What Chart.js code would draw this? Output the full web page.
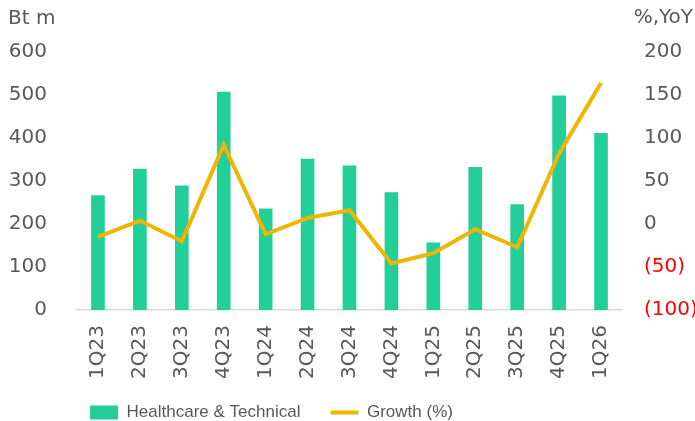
<!DOCTYPE html>
<html>
<head>
<meta charset="utf-8">
<script src="https://cdn.jsdelivr.net/npm/chart.js@4.4.1/dist/chart.umd.min.js"></script>
<style>
  html, body { margin: 0; padding: 0; background: #fff; }
  #wrap { width: 695px; height: 421px; position: relative; }
</style>
</head>
<body>
<div id="wrap"><canvas id="chart"></canvas></div>
<script>
"use strict";
// data
const quarters = ["1Q23", "2Q23", "3Q23", "4Q23", "1Q24", "2Q24", "3Q24", "4Q24", "1Q25", "2Q25", "3Q25", "4Q25", "1Q26"];
const revenue = [266, 328, 289, 507, 235, 351, 335, 273, 156, 332, 245, 498, 411];
const growth = [-15, 4, -20, 92, -12, 7, 16, -46, -34, -6, -27, 82, 164];
const leftTicks = [0, 100, 200, 300, 400, 500, 600];
const rightTicks = [-100, -50, 0, 50, 100, 150, 200];

const GREEN = "#22cf98";
const YELLOW = "#efb500";
const GREY = "#595959";
const TICK_FONT = { family: "DejaVu Sans", size: 20 };

function fmtPct(v) {
    return v < 0 ? `(${Math.abs(v)})` : String(v);
}

// "Bt m" / "%,YoY" unit captions, legend nudged left like the original,
// and the x scale box stretched so the rotated labels aren't clipped
const extras = {
    id: "extras",
    afterLayout(chart) {
        const lg = chart.legend;
        if (lg) {
            lg.left -= 76;
            lg.right -= 76;
        }
        if (chart.scales.x) chart.scales.x.bottom += 20;
    },
    afterDraw(chart) {
        const ctx = chart.ctx;
        ctx.save();
        ctx.fillStyle = GREY;
        ctx.font = "20px 'DejaVu Sans'";
        ctx.textBaseline = "middle";
        ctx.textAlign = "left";
        ctx.fillText("Bt m", 8, 19);
        ctx.textAlign = "right";
        ctx.fillText("%,YoY", 693, 18);
        ctx.restore();
    },
};

const ctx = document.getElementById("chart").getContext("2d");
new Chart(ctx, {
    data: {
        labels: quarters,
        datasets: [
            {
                type: "line",
                label: "Growth (%)",
                data: growth,
                yAxisID: "y2",
                borderColor: YELLOW,
                backgroundColor: YELLOW,
                borderWidth: 4,
                pointRadius: 0,
                tension: 0,
                pointStyle: "line",
                order: 0,
            },
            {
                type: "bar",
                label: "Healthcare & Technical",
                data: revenue,
                yAxisID: "y",
                backgroundColor: GREEN,
                borderWidth: 0,
                barThickness: 13,
                pointStyle: "rect",
                order: 1,
            },
        ],
    },
    options: {
        responsive: true,
        maintainAspectRatio: false,
        animation: false,
        layout: { padding: { top: 52, left: 0, right: 0, bottom: -10 } },
        scales: {
            x: {
                offset: true,
                grid: { display: false, drawTicks: false },
                border: { display: true, color: "#d9d9d9", width: 1.5 },
                ticks: { color: GREY, font: TICK_FONT, minRotation: 90, maxRotation: 90, padding: 15, autoSkip: false },
                afterFit: (s) => { s.height = 64; },
            },
            y: {
                position: "left",
                min: 0,
                max: 600,
                grid: { display: false, drawTicks: false },
                border: { display: false },
                afterBuildTicks: (s) => { s.ticks = leftTicks.map(v => ({ value: v })); },
                ticks: { color: GREY, font: TICK_FONT, padding: 30 },
                afterFit: (s) => { s.width = 77; },
            },
            y2: {
                position: "right",
                min: -100,
                max: 200,
                grid: { display: false, drawTicks: false },
                border: { display: false },
                afterBuildTicks: (s) => { s.ticks = rightTicks.map(v => ({ value: v })); },
                ticks: {
                    font: TICK_FONT,
                    padding: 22,
                    callback: (v) => fmtPct(v),
                    color: (c) => (c.tick && c.tick.value < 0 ? "#ff0000" : GREY),
                },
                afterFit: (s) => { s.width = 73; },
            },
        },
        plugins: {
            legend: {
                position: "bottom",
                reverse: true,
                labels: {
                    usePointStyle: true,
                    pointStyleWidth: 28,
                    boxHeight: 14,
                    color: GREY,
                    padding: 30,
                    font: { family: "Liberation Sans", size: 17 },
                },
            },
            tooltip: { enabled: false },
        },
    },
    plugins: [extras],
});
</script>
</body>
</html>
